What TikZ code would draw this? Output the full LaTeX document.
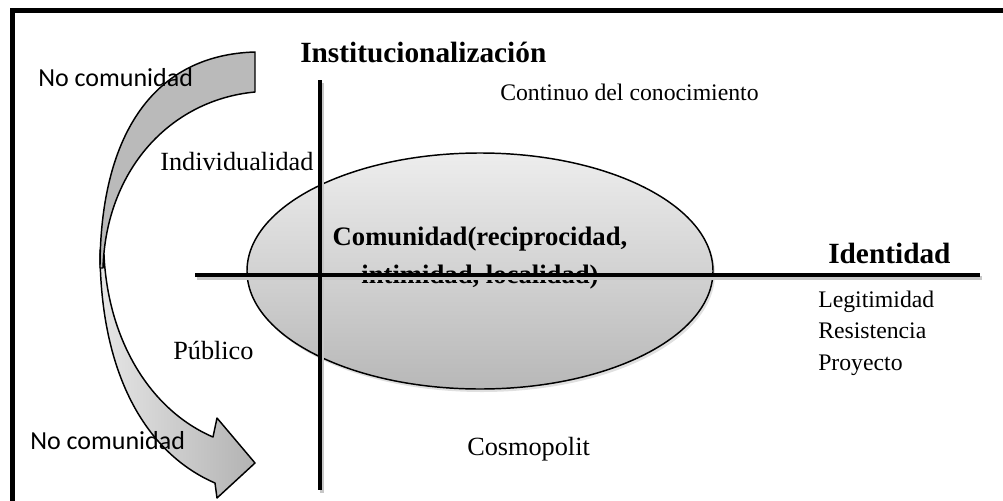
\documentclass[tikz,border=0pt]{standalone}
\usepackage{fontspec}
\setmainfont{Liberation Serif}
\newfontfamily\calibri{Carlito}
\usetikzlibrary{shapes.geometric}
\tikzset{
	txt/.style={inner sep=0pt,anchor=base west,font=\fontsize{19.7}{23}\selectfont},
	stxt/.style={inner sep=0pt,anchor=base west,font=\fontsize{17.8}{21}\selectfont},
	btxt/.style={inner sep=0pt,anchor=base west,font=\bfseries\fontsize{22}{26}\selectfont},
	ctxt/.style={inner sep=0pt,anchor=base,font=\bfseries\fontsize{20}{24}\selectfont},
	ntxt/.style={inner sep=0pt,anchor=base west,font=\calibri\fontsize{19.5}{23}\selectfont},
	eje/.style={line width=3pt},
	sombra/.style={line width=3pt,black!22},
	flecha/.style={draw,line width=1.1pt,line join=round}
}
\begin{document}
\begin{tikzpicture}[x=0.75pt,y=-0.75pt]
						\useasboundingbox (0,0) rectangle (1003,500);
						\clip (0,0) rectangle (1003,500);

						\draw[line width=3.75pt] (12.5,600) -- (12.5,10) -- (1100,10);

						\path[flecha,left color=black!10,right color=black!30] (100,250) .. controls (100,380) and (150,455) .. (215,483) -- (217,498) -- (255,463) -- (217,418) -- (213,437) .. controls (150,410) and (108,340) .. (104,255) -- cycle;
						\path[flecha,fill=black!27] (255,52) .. controls (150,55) and (100,140) .. (100,268) -- (103,268) .. controls (106,170) and (170,100) .. (255,92) -- cycle;

						\fill[black!12] (482,274) ellipse [x radius=233, y radius=118];
						\node[ellipse,draw,line width=1.1pt,top color=black!7,bottom color=black!28,minimum width=349.5pt,minimum height=177pt,inner sep=0pt] (elipse) at (480,271) {};
						\node[ctxt] (com1) at (480,245) {Comunidad(reciprocidad,};
						\node[ctxt] (com2) at (480,283) {intimidad, localidad)};

						\coordinate (hizq) at (195,275);
						\coordinate (hder) at (980,275);
						\coordinate (varr) at (320,80);
						\coordinate (vab) at (320,490);
						\draw[sombra] ([shift={(2,3)}]hizq) -- ([shift={(2,3)}]hder);
						\draw[sombra] ([shift={(2,3)}]varr) -- ([shift={(2,3)}]vab);
						\draw[eje] (hizq) -- (hder);
						\draw[eje] (varr) -- (vab);

						\node[btxt] (inst) at (300,62) {Institucionalización};
						\node[stxt] (cont) at (500,100) {Continuo del conocimiento};
						\node[txt] (indiv) at (160,170) {Individualidad};
						\node[txt] (publ) at (173,359) {Público};
						\node[txt] (cosmo) at (467,455) {Cosmopolit};
						\node[btxt] (iden) at (828,263) {Identidad};
						\node[stxt] (legi) at (818,307) {Legitimidad};
						\node[stxt] (resi) at (818,338) {Resistencia};
						\node[stxt] (proy) at (818,370) {Proyecto};
						\node[ntxt] (nc1) at (38,86) {No comunidad};
						\node[ntxt] (nc2) at (30,449) {No comunidad};
					\end{tikzpicture}
\end{document}
